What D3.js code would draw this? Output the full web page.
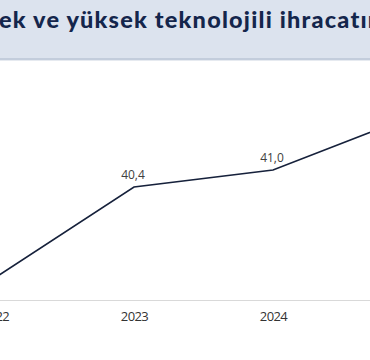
<!DOCTYPE html>
<html>
<head>
<meta charset="utf-8">
<script src="https://cdn.jsdelivr.net/npm/d3@7"></script>
<style>
  html, body { margin: 0; padding: 0; background: #ffffff; overflow: hidden; }
  svg { display: block; }
</style>
</head>
<body>
<svg id="chart" width="370" height="360"></svg>
<script>
const titleText = "Orta-yüksek ve yüksek teknolojili ihracatın payı";
const visibleTitleStart = "ek ve yüksek";
const years = ["2022", "2023", "2024", "2025"];
const shareValues = [37.2, 40.4, 41.0, 42.9];
const valueLabels = ["37,2", "40,4", "41,0", "42,9"];

const svg = d3.select("#chart");
const W = 370, H = 360;

// Title band
svg.append("rect").attr("x", 0).attr("y", 0).attr("width", W).attr("height", 59)
  .attr("fill", "#dce3ee");
svg.append("rect").attr("x", 0).attr("y", 58).attr("width", W).attr("height", 2)
  .attr("fill", "#c3cddc");
svg.append("rect").attr("x", 0).attr("y", 60).attr("width", W).attr("height", 1)
  .attr("fill", "#e6eaf0");

const fs = 23.5;
const title = svg.append("text")
  .attr("y", 27.5)
  .attr("font-family", "Lato, 'Open Sans', sans-serif")
  .attr("font-weight", 900)
  .attr("font-size", fs)
  .attr("fill", "#14264c")
  .text(titleText);
// align so the visible part starts at the left edge as in the reference
const idx = titleText.indexOf(visibleTitleStart);
const node = title.node();
const endIdx = titleText.indexOf("ı", idx + 20);
const sx = node.getStartPositionOfChar(idx).x;
const ex = node.getEndPositionOfChar(endIdx).x;
const ls = (368 - (ex - sx)) / (endIdx - idx);
title.attr("letter-spacing", ls);
const sx3 = node.getStartPositionOfChar(idx).x;
title.attr("x", -sx3 - 1);

// Scales
const x = d3.scalePoint().domain(years).range([-5, 412]);
const y = d3.scaleLinear().domain([36, 44]).range([311.7, 85]);

// Axis
const axis = svg.append("g").attr("transform", "translate(0,300)")
  .call(d3.axisBottom(x).tickSize(0).tickPadding(12));
axis.select(".domain").attr("stroke", "#d9d9d9").attr("stroke-width", 1)
  .attr("d", "M-20,0.5H" + (W + 20));
axis.selectAll("text")
  .attr("font-family", "'Open Sans', sans-serif")
  .attr("font-size", 13)
  .attr("letter-spacing", -0.6)
  .attr("fill", "#333333");

// Line
const line = d3.line().x((d, i) => x(years[i])).y(d => y(d));
svg.append("path").datum(shareValues)
  .attr("d", line)
  .attr("fill", "none")
  .attr("stroke", "#16213b")
  .attr("stroke-width", 1.6);

// Data labels (only those that fall inside the visible area, as in the reference)
const labelIdx = d3.range(years.length).filter(i => x(years[i]) > 30 && x(years[i]) < W - 30);
svg.selectAll(".vlab").data(labelIdx).enter().append("text")
  .attr("class", "vlab")
  .attr("x", i => x(years[i]) - 1)
  .attr("y", i => y(shareValues[i]) - 8)
  .attr("text-anchor", "middle")
  .attr("font-family", "'Open Sans', sans-serif")
  .attr("font-size", 12)
  .attr("fill", "#404040")
  .text(i => valueLabels[i]);
</script>
</body>
</html>
